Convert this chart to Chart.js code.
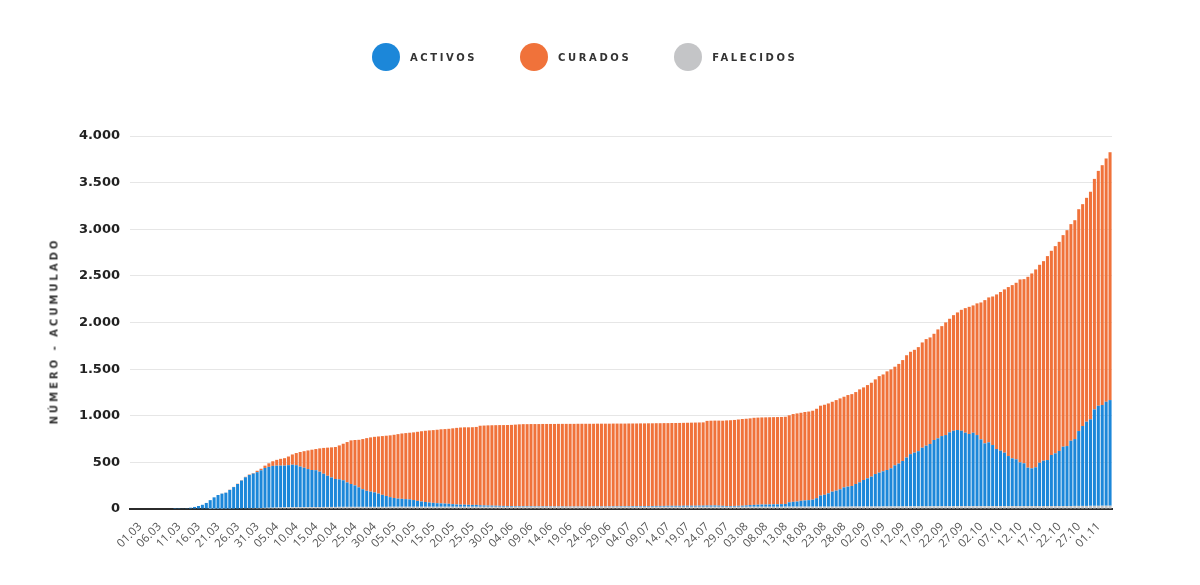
<!DOCTYPE html>
<html>
<head>
<meta charset="utf-8">
<title>Activos, curados e falecidos</title>
<script src="https://cdn.jsdelivr.net/npm/chart.js@4.4.0/dist/chart.umd.min.js"></script>
<style>
  html, body { margin: 0; padding: 0; background: #fff; }
  #wrap { position: relative; width: 1200px; height: 585px; }
  #legend {
    position: absolute; left: 372px; top: 43px;
    display: flex; align-items: center;
    font-family: "DejaVu Sans", sans-serif; font-weight: bold;
    font-size: 10px; letter-spacing: 2.6px; color: #333;
  }
  #legend .item { display: flex; align-items: center; margin-right: 43px; }
  #legend .dot { width: 28px; height: 28px; border-radius: 50%; margin-right: 10px; }
  #ytitle {
    position: absolute; left: 54px; top: 331px;
    transform: translate(-50%, -50%) rotate(-90deg);
    white-space: nowrap;
    font-family: "DejaVu Sans", sans-serif; font-weight: bold;
    font-size: 10px; letter-spacing: 3px; color: #333;
  }
  canvas { position: absolute; left: 0; top: 0; }
</style>
</head>
<body>
<div id="wrap">
  <canvas id="chart" width="1200" height="585"></canvas>
  <div id="legend"></div>
  <div id="ytitle">NÚMERO - ACUMULADO</div>
</div>
<script>
// series, one value per day from 01.03 to 06.11
const activos = [
  0,0,0,0,0,0,0,0,0,0,
  0,1,2,4,8,14,22,32,45,65,
  94,124,148,163,172,202,231,263,299,333,
  357,371,385,404,428,439,448,450,449,448,
  452,457,451,436,423,408,397,395,379,356,
  334,316,300,295,285,262,245,230,209,189,
  172,163,155,142,129,117,103,94,87,85,
  82,79,72,63,56,51,46,42,38,36,
  34,32,28,24,23,22,21,20,20,16,
  14,13,12,11,10,9,8,8,7,7,
  6,6,6,5,5,5,5,4,4,4,
  4,3,3,3,3,3,3,3,4,4,
  4,4,5,5,5,6,6,6,7,7,
  7,8,8,8,9,9,9,10,10,10,
  10,11,11,11,11,12,12,13,13,14,
  12,10,8,8,9,10,11,14,18,20,
  22,24,24,25,26,26,28,29,47,52,
  55,63,67,70,75,91,120,127,143,161,
  172,186,207,215,221,242,260,285,303,321,
  349,364,377,391,409,441,460,488,524,560,
  576,592,629,651,668,711,729,753,764,793,
  810,818,809,788,774,788,763,717,674,685,
  656,613,594,573,537,512,502,469,459,411,
  404,415,464,486,493,547,565,590,636,643,
  700,717,803,857,903,927,1034,1073,1080,1115,1133
];
const curados = [
  0,0,0,0,0,0,0,0,0,0,
  0,0,0,0,0,0,0,0,0,0,
  0,0,0,1,1,2,2,3,4,5,
  5,6,15,17,25,38,50,62,73,80,
  93,110,130,156,177,200,218,227,250,277,
  302,323,343,364,392,433,468,487,510,538,
  565,582,596,613,630,646,663,678,692,701,
  708,715,726,741,754,764,773,780,788,795,
  799,804,813,822,827,830,831,833,836,853,
  857,860,862,864,866,867,869,870,874,877,
  880,880,881,882,882,883,883,884,884,885,
  885,886,886,886,887,887,887,887,886,887,
  887,887,886,887,887,886,886,887,886,886,
  887,886,887,887,887,887,888,887,888,888,
  889,889,890,891,892,892,893,908,910,910,
  912,913,918,920,922,926,930,930,930,934,
  934,934,935,935,935,936,935,935,933,941,
  945,944,948,950,954,959,963,966,964,964,
  971,975,972,982,985,986,997,993,1000,1007,
  1015,1035,1039,1058,1061,1058,1069,1082,1097,1098,
  1103,1116,1129,1143,1143,1139,1168,1179,1208,1218,
  1240,1261,1297,1336,1364,1365,1412,1468,1536,1554,
  1593,1658,1701,1751,1812,1858,1893,1962,1975,2047,
  2090,2122,2123,2140,2187,2190,2222,2243,2269,2315,
  2323,2347,2379,2379,2401,2440,2472,2519,2572,2609,2658
];
const falecidos = [
  0,0,0,0,0,0,0,0,0,0,
  0,0,0,0,0,0,0,0,0,0,
  1,1,2,2,3,3,4,5,6,7,
  8,9,10,11,12,13,14,15,16,17,
  18,18,19,19,20,20,21,21,21,22,
  22,22,22,23,23,23,23,23,23,23,
  23,23,23,23,23,23,24,24,24,24,
  24,24,24,24,24,24,24,24,24,24,
  24,24,24,24,24,24,24,24,24,24,
  24,24,24,24,24,24,24,24,24,24,
  24,24,24,24,24,24,24,24,24,24,
  24,24,24,24,24,24,24,24,24,24,
  24,24,24,24,24,24,24,24,24,24,
  24,24,24,24,24,24,24,24,24,24,
  24,24,24,24,24,24,24,24,24,24,
  24,24,24,24,24,24,24,24,24,24,
  24,24,24,24,24,24,24,25,25,25,
  25,25,25,25,25,25,25,25,25,25,
  25,25,25,25,26,26,26,26,26,26,
  26,26,27,27,27,27,27,27,28,28,
  28,28,28,28,29,29,29,29,29,29,
  29,29,30,30,30,30,30,30,30,30,
  30,30,31,31,31,31,31,31,31,32,
  32,32,32,32,32,32,32,32,32,32,
  32,33,33,33,33,34,34,34,35,35,35
];

const series = [
  { label: 'ACTIVOS', data: activos, color: '#1c87d9' },
  { label: 'CURADOS', data: curados, color: '#f0723a' },
  { label: 'FALECIDOS', data: falecidos, color: '#c4c5c7' }
];
const yTicks = [0, 500, 1000, 1500, 2000, 2500, 3000, 3500, 4000];
const labelEvery = 5;
const lastLabel = '01.11';

// daily category labels dd.mm
const dias = [];
const start = Date.UTC(2020, 2, 1);
for (let i = 0; i < activos.length; i++) {
  const d = new Date(start + i * 86400000);
  dias.push(String(d.getUTCDate()).padStart(2, '0') + '.' + String(d.getUTCMonth() + 1).padStart(2, '0'));
}
const lastLabelIndex = dias.indexOf(lastLabel);

function fmt(v) {
  return String(v).replace(/\B(?=(\d{3})+(?!\d))/g, '.');
}

// html legend
const legend = document.getElementById('legend');
series.forEach(s => {
  const item = document.createElement('div');
  item.className = 'item';
  item.innerHTML = '<span class="dot" style="background:' + s.color + '"></span><span>' + s.label + '</span>';
  legend.appendChild(item);
});

// falecidos sits at the bottom of the stack
const stackOrder = [series[2], series[0], series[1]];

new Chart(document.getElementById('chart'), {
  type: 'bar',
  data: {
    labels: dias,
    datasets: stackOrder.map(s => ({
      label: s.label,
      data: s.data,
      backgroundColor: s.color,
      borderWidth: 0,
      barPercentage: 0.78,
      categoryPercentage: 1
    }))
  },
  options: {
    responsive: false,
    animation: false,
    layout: { padding: { top: 136, right: 88, bottom: 0, left: 0 } },
    plugins: { legend: { display: false }, tooltip: { enabled: false } },
    scales: {
      x: {
        stacked: true,
        grid: { display: false },
        border: { display: true, color: '#2b2b2b', width: 2 },
        ticks: {
          autoSkip: false,
          minRotation: 45,
          maxRotation: 45,
          padding: 3,
          labelOffset: 8,
          color: '#555',
          font: { family: 'Open Sans', size: 11.5 },
          callback: function(v, i) {
            return (i % labelEvery === 0 && i <= lastLabelIndex) ? this.getLabelForValue(v) : '';
          }
        },
        afterFit: s => { s.height = 76; }
      },
      y: {
        stacked: true,
        min: 0,
        max: 4000,
        afterBuildTicks: s => { s.ticks = yTicks.map(v => ({ value: v })); },
        grid: { color: '#e6e6e6', drawTicks: false },
        border: { display: false },
        ticks: {
          padding: 10,
          color: '#222',
          font: { family: 'DejaVu Sans', size: 13, weight: 'bold' },
          callback: v => fmt(v)
        },
        afterFit: s => { s.width = 130; }
      }
    }
  }
});
</script>
</body>
</html>
